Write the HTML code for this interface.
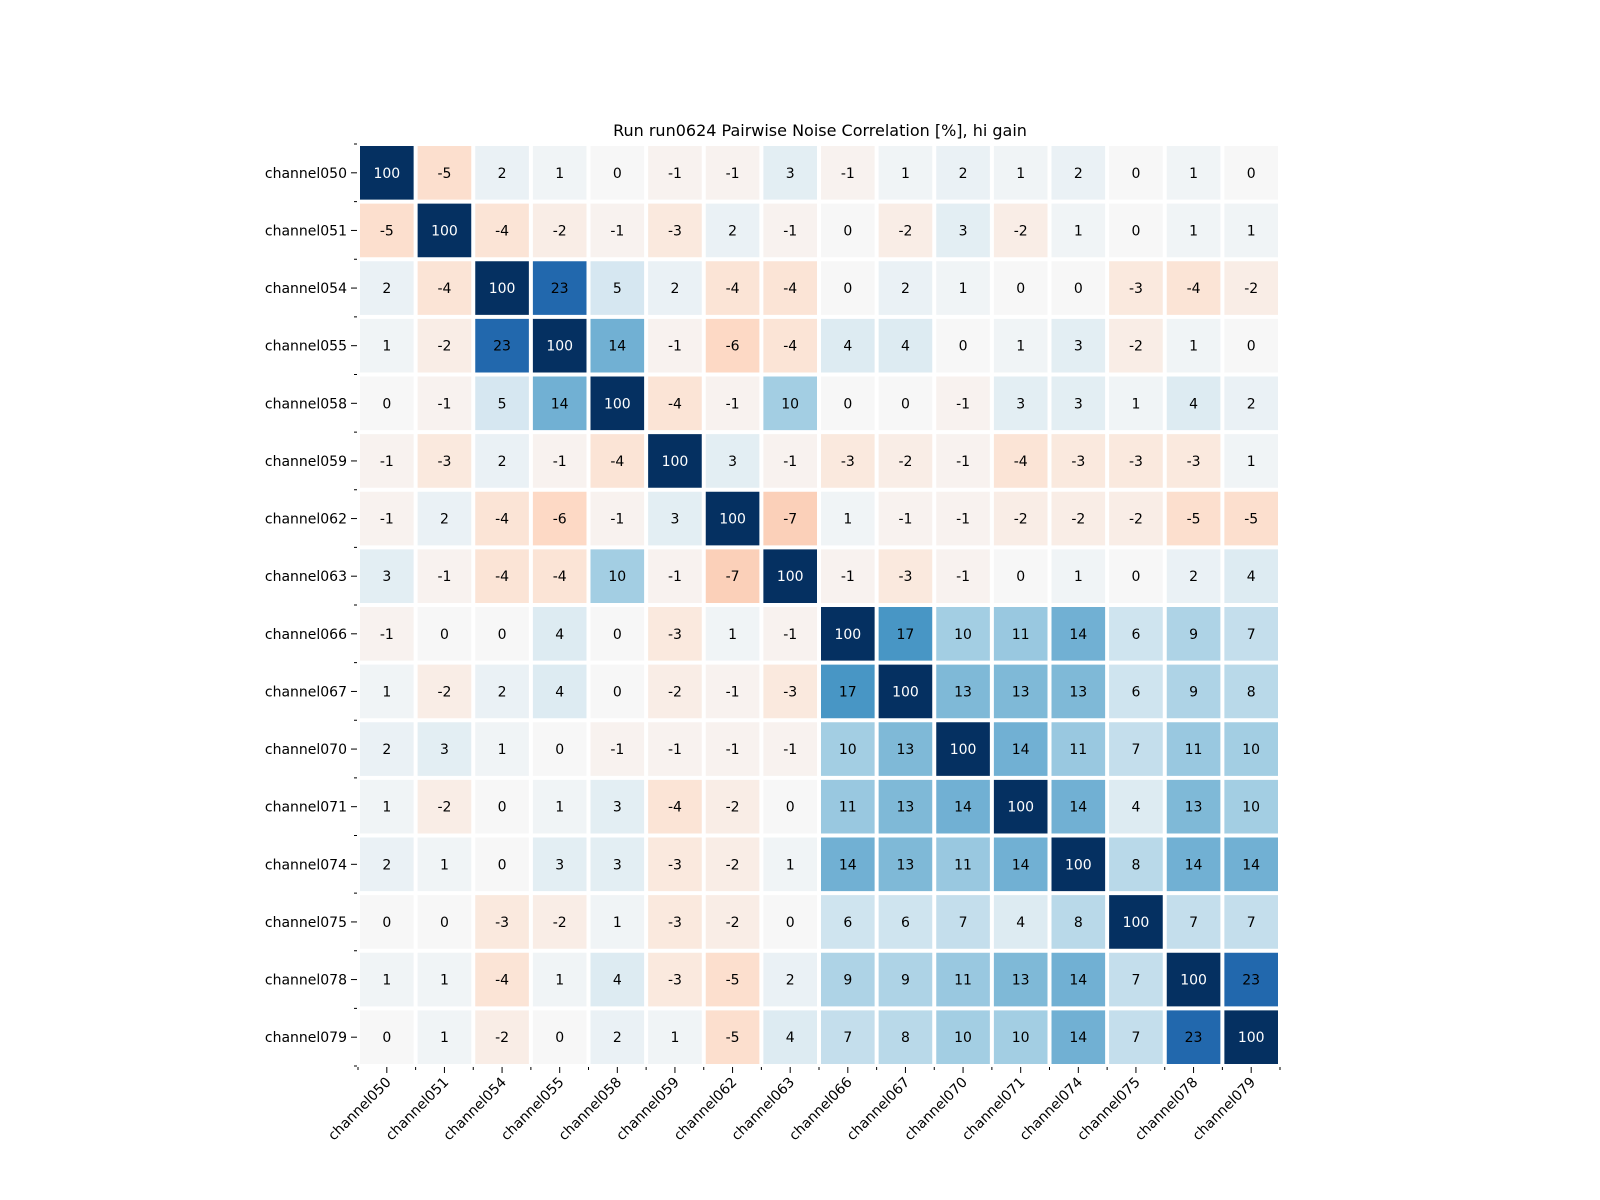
<!DOCTYPE html>
<html><head><meta charset="utf-8"><style>
body{margin:0;background:#fff;}
svg{display:block;font-family:"DejaVu Sans","Liberation Sans",sans-serif;}
</style></head><body>
<svg id="chart" width="1600" height="1200" viewBox="0 0 1600 1200">
<text x="820" y="136" text-anchor="middle" font-size="16">Run run0624 Pairwise Noise Correlation [%], hi gain</text>
<g id="cells"></g><g id="axes"></g>
</svg>
<script>
const channels = ["channel050","channel051","channel054","channel055","channel058","channel059","channel062","channel063","channel066","channel067","channel070","channel071","channel074","channel075","channel078","channel079"];
const values = [
[100,-5,2,1,0,-1,-1,3,-1,1,2,1,2,0,1,0],
[-5,100,-4,-2,-1,-3,2,-1,0,-2,3,-2,1,0,1,1],
[2,-4,100,23,5,2,-4,-4,0,2,1,0,0,-3,-4,-2],
[1,-2,23,100,14,-1,-6,-4,4,4,0,1,3,-2,1,0],
[0,-1,5,14,100,-4,-1,10,0,0,-1,3,3,1,4,2],
[-1,-3,2,-1,-4,100,3,-1,-3,-2,-1,-4,-3,-3,-3,1],
[-1,2,-4,-6,-1,3,100,-7,1,-1,-1,-2,-2,-2,-5,-5],
[3,-1,-4,-4,10,-1,-7,100,-1,-3,-1,0,1,0,2,4],
[-1,0,0,4,0,-3,1,-1,100,17,10,11,14,6,9,7],
[1,-2,2,4,0,-2,-1,-3,17,100,13,13,13,6,9,8],
[2,3,1,0,-1,-1,-1,-1,10,13,100,14,11,7,11,10],
[1,-2,0,1,3,-4,-2,0,11,13,14,100,14,4,13,10],
[2,1,0,3,3,-3,-2,1,14,13,11,14,100,8,14,14],
[0,0,-3,-2,1,-3,-2,0,6,6,7,4,8,100,7,7],
[1,1,-4,1,4,-3,-5,2,9,9,11,13,14,7,100,23],
[0,1,-2,0,2,1,-5,4,7,8,10,10,14,7,23,100]
];
const X0=358,Y0=144,SIZE=922,N=channels.length,C=SIZE/N;
const xPos=i=>X0+i*C, yPos=i=>Y0+i*C;
const stops=[[0,[103,0,31]],[0.1,[178,24,43]],[0.2,[214,96,77]],[0.3,[244,165,130]],[0.4,[253,219,199]],[0.5,[247,247,247]],[0.6,[209,229,240]],[0.7,[146,197,222]],[0.8,[67,147,195]],[0.9,[33,102,172]],[1,[5,48,97]]];
function color(v){let t=Math.max(0,Math.min(1,0.5+v/58));
 for(let k=1;k<stops.length;k++){if(t<=stops[k][0]){const a=stops[k-1],b=stops[k];const f=(t-a[0])/(b[0]-a[0]);
 return 'rgb('+a[1].map((c,j)=>Math.round(c+(b[1][j]-c)*f)).join(',')+')';}}return 'rgb(5,48,97)';}
const NS="http://www.w3.org/2000/svg";
const cells=document.getElementById('cells'),axes=document.getElementById('axes');
function mk(tag,attrs,parent){const e=document.createElementNS(NS,tag);for(const k in attrs)e.setAttribute(k,attrs[k]);parent.appendChild(e);return e;}
for(let r=0;r<N;r++)for(let c=0;c<N;c++){const v=values[r][c];
 const rect=mk('rect',{x:xPos(c)+2,y:yPos(r)+2,width:C-4,height:C-4,fill:color(v)},cells);
 
 
 const t=mk('text',{x:xPos(c)+C/2,y:yPos(r)+C/2+5,'text-anchor':'middle','font-size':'14',fill:Math.abs(v/58)>0.45?'#fff':'#000'},cells);
 t.textContent=v;
 
 }
for(let i=0;i<=N;i++){
 mk('line',{x1:X0-4,x2:X0-1,y1:yPos(i),y2:yPos(i),stroke:'#000','stroke-width':1},axes);
 mk('line',{x1:xPos(i),x2:xPos(i),y1:Y0+SIZE+1,y2:Y0+SIZE+4,stroke:'#000','stroke-width':1},axes);}
for(let i=0;i<N;i++){
 mk('line',{x1:X0-7,x2:X0-1,y1:yPos(i)+C/2,y2:yPos(i)+C/2,stroke:'#000','stroke-width':1},axes);
 const yl=mk('text',{x:X0-11,y:yPos(i)+C/2+5,'text-anchor':'end','font-size':'14'},axes);
 yl.textContent=channels[i];
 
 
 const cx=xPos(i)+C/2;
 mk('line',{x1:cx,x2:cx,y1:Y0+SIZE+1,y2:Y0+SIZE+7,stroke:'#000','stroke-width':1},axes);
 const xl=mk('text',{x:0,y:0,'text-anchor':'end','font-size':'14',transform:'translate('+(cx+5)+','+(Y0+SIZE+17)+') rotate(-45)'},axes);
 xl.textContent=channels[i];
 
 }
</script>
</body></html>
